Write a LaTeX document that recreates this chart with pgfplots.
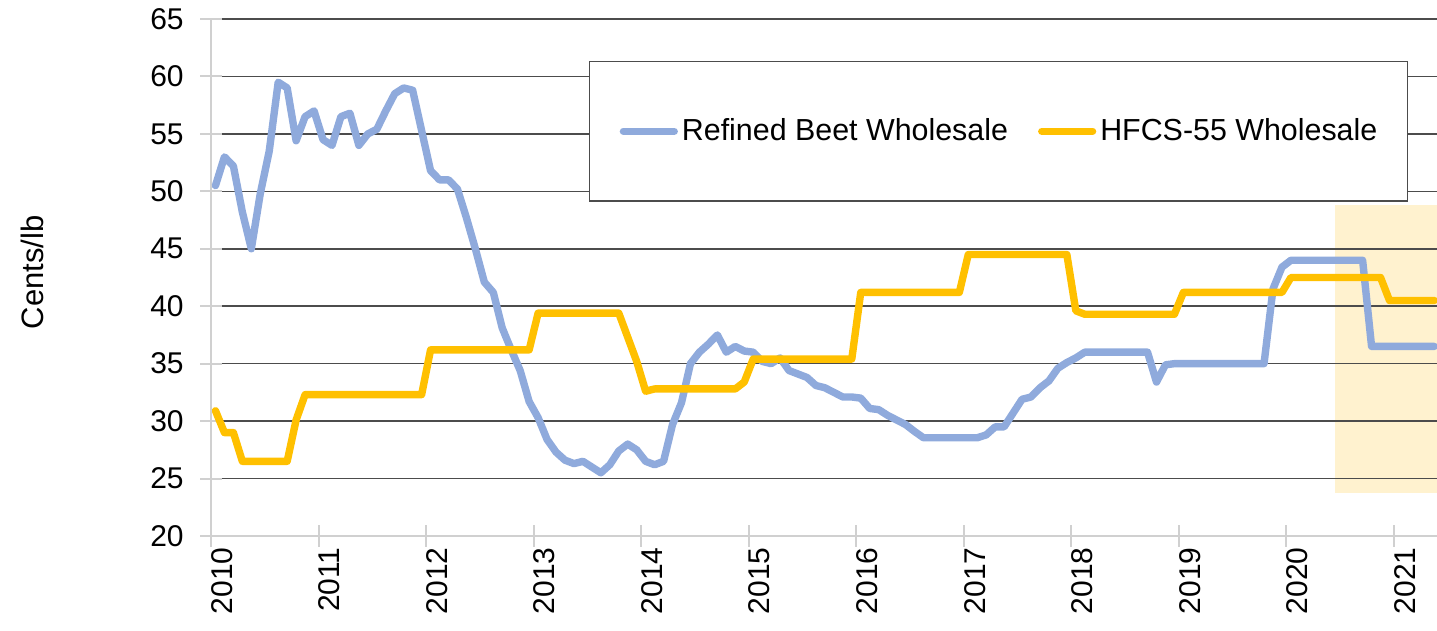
\documentclass[border=0pt]{standalone}
\usepackage{pgfplots}
\pgfplotsset{compat=1.18}
\usepackage{pgfplotstable}
\usepackage{fontspec}
\setmainfont{Liberation Sans}
\definecolor{beet}{HTML}{8FAADC}
\definecolor{hfcs}{HTML}{FFC000}
\definecolor{shade}{HTML}{FFF2CF}
\definecolor{axgray}{HTML}{D0D0D0}

\pgfplotstableread{
year month beet hfcs
2010 1 50.5 30.9
2010 2 53.0 29.0
2010 3 52.2 29.0
2010 4 48.2 26.5
2010 5 45.0 26.5
2010 6 49.8 26.5
2010 7 53.5 26.5
2010 8 59.5 26.5
2010 9 59.0 26.5
2010 10 54.4 30.1
2010 11 56.5 32.3
2010 12 57.0 32.3
2011 1 54.5 32.3
2011 2 54.0 32.3
2011 3 56.5 32.3
2011 4 56.8 32.3
2011 5 54.0 32.3
2011 6 55.0 32.3
2011 7 55.4 32.3
2011 8 57.0 32.3
2011 9 58.5 32.3
2011 10 59.0 32.3
2011 11 58.8 32.3
2011 12 55.3 32.3
2012 1 51.8 36.2
2012 2 51.0 36.2
2012 3 51.0 36.2
2012 4 50.2 36.2
2012 5 47.7 36.2
2012 6 45.0 36.2
2012 7 42.1 36.2
2012 8 41.2 36.2
2012 9 38.1 36.2
2012 10 36.2 36.2
2012 11 34.4 36.2
2012 12 31.7 36.2
2013 1 30.3 39.4
2013 2 28.4 39.4
2013 3 27.3 39.4
2013 4 26.6 39.4
2013 5 26.3 39.4
2013 6 26.5 39.4
2013 7 26.0 39.4
2013 8 25.5 39.4
2013 9 26.2 39.4
2013 10 27.4 39.4
2013 11 28.0 37.3
2013 12 27.5 35.2
2014 1 26.5 32.6
2014 2 26.2 32.8
2014 3 26.5 32.8
2014 4 29.7 32.8
2014 5 31.6 32.8
2014 6 35.0 32.8
2014 7 36.0 32.8
2014 8 36.7 32.8
2014 9 37.5 32.8
2014 10 36.0 32.8
2014 11 36.5 32.8
2014 12 36.1 33.4
2015 1 36.0 35.4
2015 2 35.2 35.4
2015 3 35.0 35.4
2015 4 35.5 35.4
2015 5 34.4 35.4
2015 6 34.1 35.4
2015 7 33.8 35.4
2015 8 33.1 35.4
2015 9 32.9 35.4
2015 10 32.5 35.4
2015 11 32.1 35.4
2015 12 32.1 35.4
2016 1 32.0 41.2
2016 2 31.1 41.2
2016 3 31.0 41.2
2016 4 30.5 41.2
2016 5 30.1 41.2
2016 6 29.7 41.2
2016 7 29.1 41.2
2016 8 28.55 41.2
2016 9 28.55 41.2
2016 10 28.55 41.2
2016 11 28.55 41.2
2016 12 28.55 41.2
2017 1 28.55 44.5
2017 2 28.55 44.5
2017 3 28.8 44.5
2017 4 29.5 44.5
2017 5 29.5 44.5
2017 6 30.7 44.5
2017 7 31.9 44.5
2017 8 32.1 44.5
2017 9 32.9 44.5
2017 10 33.5 44.5
2017 11 34.6 44.5
2017 12 35.1 44.5
2018 1 35.5 39.6
2018 2 36.0 39.3
2018 3 36.0 39.3
2018 4 36.0 39.3
2018 5 36.0 39.3
2018 6 36.0 39.3
2018 7 36.0 39.3
2018 8 36.0 39.3
2018 9 36.0 39.3
2018 10 33.4 39.3
2018 11 34.9 39.3
2018 12 35.0 39.3
2019 1 35.0 41.2
2019 2 35.0 41.2
2019 3 35.0 41.2
2019 4 35.0 41.2
2019 5 35.0 41.2
2019 6 35.0 41.2
2019 7 35.0 41.2
2019 8 35.0 41.2
2019 9 35.0 41.2
2019 10 35.0 41.2
2019 11 41.5 41.2
2019 12 43.4 41.2
2020 1 44.0 42.5
2020 2 44.0 42.5
2020 3 44.0 42.5
2020 4 44.0 42.5
2020 5 44.0 42.5
2020 6 44.0 42.5
2020 7 44.0 42.5
2020 8 44.0 42.5
2020 9 44.0 42.5
2020 10 36.5 42.5
2020 11 36.5 42.5
2020 12 36.5 40.5
2021 1 36.5 40.5
2021 2 36.5 40.5
2021 3 36.5 40.5
2021 4 36.5 40.5
2021 5 36.5 40.5
}\pricedata

\begin{document}
\begin{tikzpicture}
\begin{axis}[
  at={(0,0)}, anchor=south west,
  set layers,
  scale only axis, width=613pt, height=258.5pt,
  xmin=2010, xmax=2021.40, ymin=20, ymax=65,
  axis x line*=bottom, axis y line*=left,
  axis line style={-, draw=axgray, line width=1pt},
  xtick={2010,...,2021}, ytick={20,25,...,65},
  tick align=center, major tick length=11pt,
  tick style={draw=axgray, line width=1pt},
  ymajorgrids, major grid style={draw=black!70, line width=0.75pt},
  /pgf/number format/assume math mode=true,
  /pgf/number format/1000 sep={},
  tick label style={font=\fontsize{15}{18}\selectfont},
  xticklabel style={rotate=90, anchor=east, inner sep=0pt, yshift=-5.5pt},
  yticklabel style={anchor=east, inner sep=0pt, xshift=-8pt},
  ylabel={Cents/lb},
  ylabel style={at={(axis description cs:-0.146,0.51)}, anchor=center, font=\fontsize{15.5}{18}\selectfont},
  legend columns=2,
  legend style={at={(0.3083,0.9188)}, anchor=north west, draw=black!70, line width=0.75pt,
    fill=white, inner xsep=15pt, inner ysep=28.5pt,
    font=\fontsize{15.2}{18}\selectfont,
    nodes={inner sep=0pt}, column sep=2pt,
    /tikz/every even column/.append style={column sep=15pt}},
  legend image code/.code={\draw[#1, line cap=round] (0pt,0pt) -- (25.4pt,0pt);},
]
\addplot[fill=shade, draw=none, forget plot, on layer=axis background]
  coordinates {(2020.45,23.75) (2021.45,23.75) (2021.45,48.8) (2020.45,48.8)} -- cycle;
\addplot[beet, line width=3.7pt, line join=round, line cap=round, no marks]
  table[x expr=\thisrow{year}+(\thisrow{month}-0.5)/12, y=beet] {\pricedata};
\addlegendentry{Refined Beet Wholesale}
\addplot[hfcs, line width=3.7pt, line join=round, line cap=round, no marks]
  table[x expr=\thisrow{year}+(\thisrow{month}-0.5)/12, y=hfcs] {\pricedata};
\addlegendentry{HFCS-55 Wholesale}
\end{axis}
\pgfresetboundingbox
\useasboundingbox (-105.5pt,-47.5pt) rectangle (613pt,268pt);
\end{tikzpicture}
\end{document}
